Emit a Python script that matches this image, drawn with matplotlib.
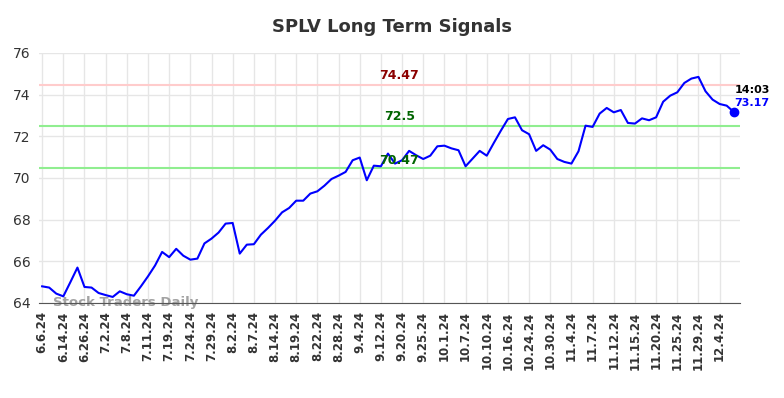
import matplotlib
matplotlib.use("Agg")
import matplotlib.pyplot as plt

# --- DATA ---
prices = [
    64.80, 64.74, 64.45, 64.32, 65.00, 65.70, 64.77, 64.74, 64.48, 64.38,
    64.29, 64.56, 64.42, 64.35, 64.80, 65.28, 65.80, 66.45, 66.20, 66.60,
    66.27, 66.08, 66.13, 66.86, 67.09, 67.38, 67.81, 67.84, 66.37, 66.80,
    66.82, 67.28, 67.60, 67.95, 68.35, 68.56, 68.91, 68.91, 69.25, 69.36,
    69.63, 69.95, 70.11, 70.29, 70.85, 70.98, 69.89, 70.59, 70.56, 71.17,
    70.69, 70.85, 71.30, 71.09, 70.91, 71.07, 71.52, 71.55, 71.42, 71.33,
    70.56, 70.93, 71.30, 71.07, 71.68, 72.27, 72.83, 72.91, 72.29, 72.10,
    71.30, 71.57, 71.36, 70.91, 70.77, 70.69, 71.28, 72.51, 72.45, 73.09,
    73.36, 73.15, 73.26, 72.64, 72.61, 72.86, 72.77, 72.91, 73.66, 73.95,
    74.11, 74.56, 74.77, 74.85, 74.16, 73.76, 73.55, 73.47, 73.17,
]
tick_labels = [
    "6.6.24", "6.14.24", "6.26.24", "7.2.24", "7.8.24", "7.11.24", "7.19.24",
    "7.24.24", "7.29.24", "8.2.24", "8.7.24", "8.14.24", "8.19.24", "8.22.24",
    "8.28.24", "9.4.24", "9.12.24", "9.20.24", "9.25.24", "10.1.24", "10.7.24",
    "10.10.24", "10.16.24", "10.24.24", "10.30.24", "11.4.24", "11.7.24",
    "11.12.24", "11.15.24", "11.20.24", "11.25.24", "11.29.24", "12.4.24",
]
resistance = 74.47
mid_level = 72.5
support = 70.47
last_time = "14:03"
# ------------

fig = plt.figure(figsize=(7.84, 3.98), dpi=100)
ax = fig.add_axes([0.0497, 0.2387, 0.8943, 0.6283])

x = list(range(len(prices)))
ax.plot(x, prices, color="blue", lw=1.5, zorder=3)
ax.plot(x[-1], prices[-1], "o", color="blue", ms=6, zorder=4)

ax.axhline(resistance, color="#ffcccc", lw=1.5, zorder=2)
ax.axhline(mid_level, color="#90ee90", lw=1.5, zorder=2)
ax.axhline(support, color="#90ee90", lw=1.5, zorder=2)

mid_x = 50.6
ax.text(mid_x, resistance + 0.12, f"{resistance:.2f}", color="#8b0000",
        fontsize=9, fontweight="bold", ha="center", va="bottom")
ax.text(mid_x, mid_level + 0.12, f"{mid_level}", color="#006400",
        fontsize=9, fontweight="bold", ha="center", va="bottom")
ax.text(mid_x, support + 0.05, f"{support:.2f}", color="#006400",
        fontsize=9, fontweight="bold", ha="center", va="bottom")

ax.text(x[-1] + 0.1, prices[-1] + 1.05, last_time, color="black",
        fontsize=8, fontweight="bold", ha="left", va="center")
ax.text(x[-1] + 0.1, prices[-1] + 0.45, f"{prices[-1]:.2f}", color="blue",
        fontsize=8, fontweight="bold", ha="left", va="center")

ax.text(1.6, 64.0, "Stock Traders Daily", color="#999999", fontsize=9.5,
        fontweight="bold", ha="left", va="center", alpha=0.9, zorder=1)

ax.set_xlim(-0.45, 98.9)
ax.set_ylim(64, 76)
ax.set_yticks([64, 66, 68, 70, 72, 74, 76])
ax.set_xticks(range(0, len(prices), 3))
ax.set_xticklabels(tick_labels, rotation=90, fontsize=8.5, fontweight="bold",
                   color="#333333")
ax.tick_params(axis="y", labelsize=10, colors="#333333", length=0, pad=6)
ax.tick_params(axis="x", length=0, pad=6)

ax.grid(True, color="#e6e6e6", lw=1)
ax.set_axisbelow(True)
for s in ["top", "right", "left"]:
    ax.spines[s].set_visible(False)
ax.spines["bottom"].set_color("#555555")

fig.suptitle("SPLV Long Term Signals", x=0.5, y=0.955, fontsize=13,
             fontweight="bold", color="#333333")

fig.savefig("out.png", dpi=100)
